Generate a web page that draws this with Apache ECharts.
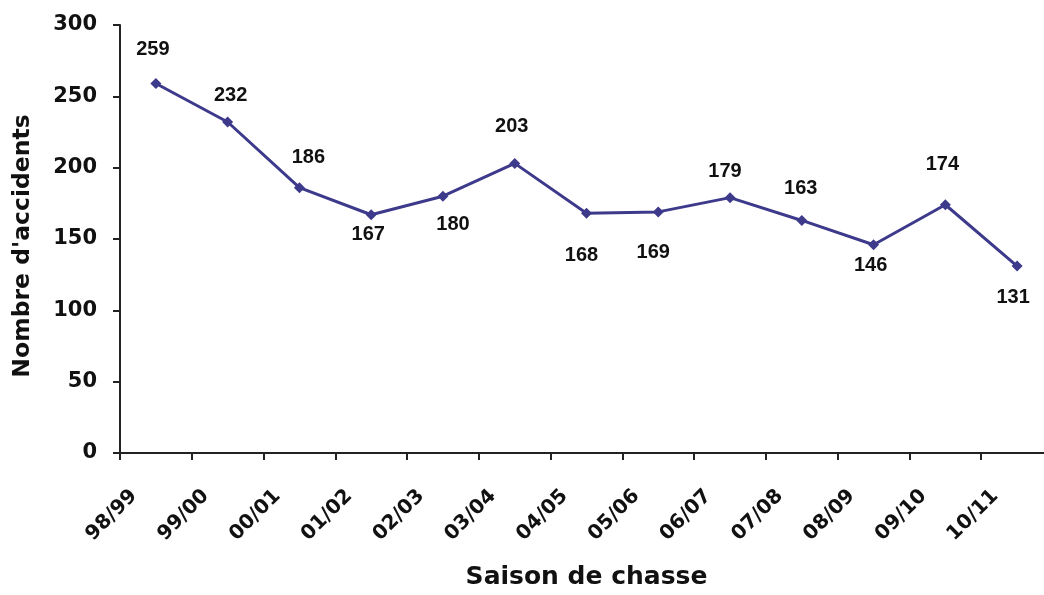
<!DOCTYPE html>
<html>
<head>
<meta charset="utf-8">
<script src="https://cdn.jsdelivr.net/npm/echarts@6/dist/echarts.min.js"></script>
<style>
html,body{margin:0;padding:0;background:#fff;}
#chart{width:1044px;height:595px;}
</style>
</head>
<body>
<div id="chart"></div>
<script>
// Data
var seasons = ['98/99','99/00','00/01','01/02','02/03','03/04','04/05','05/06','06/07','07/08','08/09','09/10','10/11'];
var accidents = [259, 232, 186, 167, 180, 203, 168, 169, 179, 163, 146, 174, 131];
var yTicks = [0, 50, 100, 150, 200, 250, 300];

// Label placement (style only): [dx, dy] relative to each point
var labelOffsets = [[-3,-34],[3,-27],[9,-30],[-3,20],[10,28],[-3,-37],[-5,42],[-5,41],[-5,-26],[-1,-32],[-3,21],[-3,-40],[-4,31]];

var lineColor = '#3d3a8c';
var textColor = '#111';

var chart = echarts.init(document.getElementById('chart'), null, {renderer: 'canvas'});
var seriesData = accidents.map(function (v, i) {
  return {
    value: v,
    label: {offset: labelOffsets[i]}
  };
});

chart.setOption({
  animation: false,
  backgroundColor: '#fff',
  grid: {left: 120, top: 25, bottom: 142, right: -9, containLabel: false, outerBoundsMode: 'none'},
  xAxis: {
    type: 'category',
    data: seasons,
    boundaryGap: true,
    name: 'Saison de chasse',
    nameLocation: 'middle',
    nameGap: 112,
    nameTextStyle: {fontFamily: 'DejaVu Sans', fontWeight: 'bold', fontSize: 25, color: textColor},
    axisLine: {show: true, lineStyle: {color: '#222', width: 2}},
    axisTick: {show: true, inside: false, length: 7, lineStyle: {color: '#222', width: 2}},
    axisLabel: {
      rotate: 45,
      interval: 0,
      margin: 18,
      padding: [0, 31, 0, 0],
      fontFamily: 'DejaVu Sans',
      fontWeight: 'bold',
      fontSize: 20,
      color: textColor
    },
    splitLine: {show: false}
  },
  yAxis: {
    type: 'value',
    min: yTicks[0],
    max: yTicks[yTicks.length - 1],
    interval: yTicks[1] - yTicks[0],
    name: "Nombre d'accidents",
    nameLocation: 'middle',
    nameGap: 85,
    nameRotate: 90,
    nameTextStyle: {fontFamily: 'DejaVu Sans', fontWeight: 'bold', fontSize: 23.5, color: textColor, padding: [0, 14, 0, 0]},
    axisLine: {show: true, lineStyle: {color: '#222', width: 2}},
    axisTick: {show: true, inside: false, length: 7, lineStyle: {color: '#222', width: 2}},
    axisLabel: {
      margin: 23,
      fontFamily: 'DejaVu Sans',
      fontWeight: 'bold',
      fontSize: 21,
      color: textColor
    },
    splitLine: {show: false}
  },
  series: [{
    type: 'line',
    data: seriesData,
    symbol: 'diamond',
    symbolSize: 11,
    showAllSymbol: true,
    lineStyle: {color: lineColor, width: 3},
    itemStyle: {color: lineColor},
    label: {
      show: true,
      position: 'inside',
      fontFamily: 'Liberation Sans',
      fontWeight: 'bold',
      fontSize: 20,
      color: textColor
    }
  }]
});
</script>
</body>
</html>
